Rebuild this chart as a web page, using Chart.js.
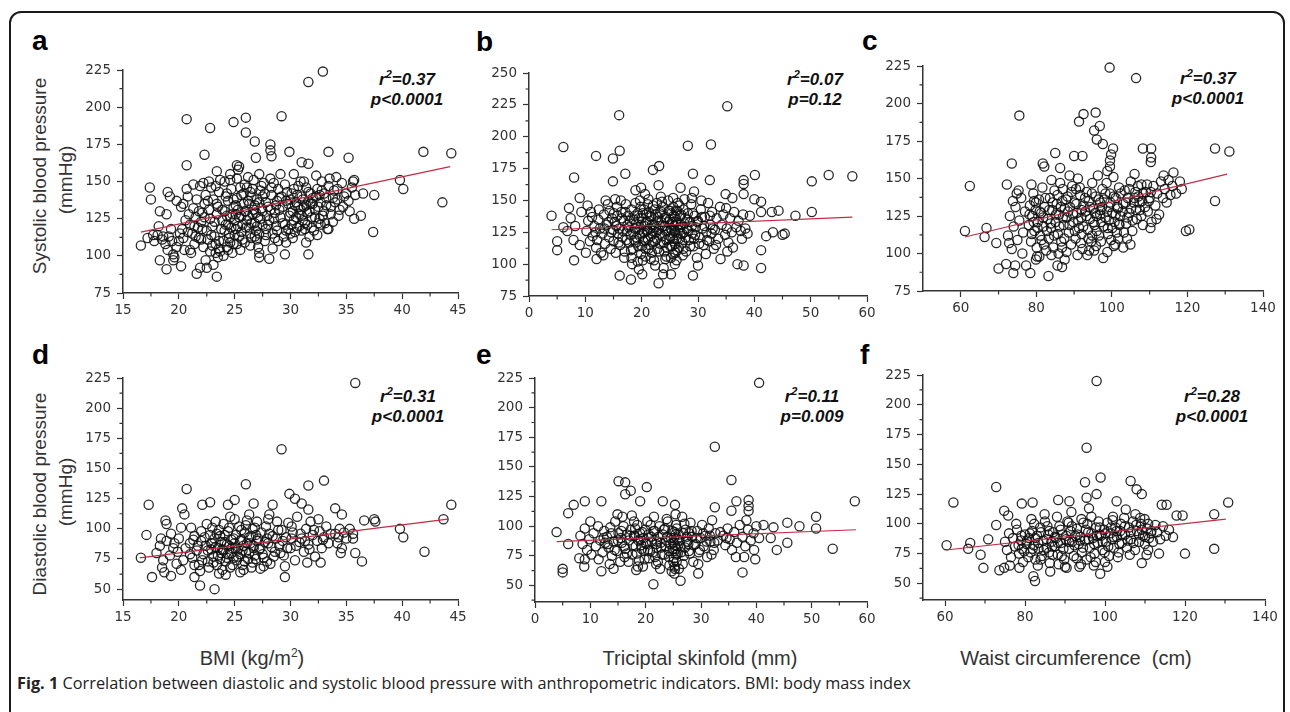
<!DOCTYPE html>
<html>
<head>
<meta charset="utf-8">
<script src="https://cdn.jsdelivr.net/npm/chart.js@4.4.0/dist/chart.umd.min.js"></script>
<style>
body{margin:0;background:#fff;width:1290px;height:712px;overflow:hidden;position:relative;font-family:"Liberation Sans",Arial,sans-serif;color:#333}
.frame{position:absolute;left:9px;top:11px;width:1276px;height:760px;border:2px solid #1a1a1a;border-radius:12px;box-sizing:border-box}
canvas{position:absolute}
.t{position:absolute;line-height:1;white-space:nowrap}
.letter{font-weight:bold;font-size:28px;color:#000}
.stat{position:absolute;font-weight:bold;font-style:italic;font-size:17px;line-height:20px;color:#111;text-align:center;transform:translateX(-50%);white-space:nowrap}
.stat sup,.xt sup{font-size:11px;position:relative;top:-1px;vertical-align:top;line-height:1}
.xt{font-size:20px;transform:translateX(-50%)}
.xt sup{font-size:12px}
.yt{font-size:19px;transform:translate(-50%,-50%) rotate(-90deg)}
.cap{font-family:"Open Sans",sans-serif;font-size:16.3px;color:#222}
</style>
</head>
<body>
<div class="frame"></div>

<div class="t letter" style="left:32px;top:27px">a</div>
<div class="t letter" style="left:476px;top:28px">b</div>
<div class="t letter" style="left:862px;top:27px">c</div>
<div class="t letter" style="left:32px;top:341px">d</div>
<div class="t letter" style="left:476px;top:341px">e</div>
<div class="t letter" style="left:860px;top:341px">f</div>

<div class="stat" style="left:407px;top:70px">r<sup>2</sup>=0.37<br>p&lt;0.0001</div>
<div class="stat" style="left:815px;top:70px">r<sup>2</sup>=0.07<br>p=0.12</div>
<div class="stat" style="left:1208px;top:69px">r<sup>2</sup>=0.37<br>p&lt;0.0001</div>
<div class="stat" style="left:408px;top:387px">r<sup>2</sup>=0.31<br>p&lt;0.0001</div>
<div class="stat" style="left:812px;top:387px">r<sup>2</sup>=0.11<br>p=0.009</div>
<div class="stat" style="left:1212px;top:387px">r<sup>2</sup>=0.28<br>p&lt;0.0001</div>

<div class="t yt" style="left:39px;top:176px">Systolic blood pressure</div>
<div class="t yt" style="left:65px;top:180px">(mmHg)</div>
<div class="t yt" style="left:39px;top:494px">Diastolic blood pressure</div>
<div class="t yt" style="left:65px;top:492px">(mmHg)</div>

<div class="t xt" style="left:252px;top:648px">BMI (kg/m<sup>2</sup>)</div>
<div class="t xt" style="left:700px;top:648px">Triciptal skinfold (mm)</div>
<div class="t xt" style="left:1076px;top:648px">Waist circumference&nbsp; (cm)</div>

<div class="t cap" style="left:17px;top:675px"><b>Fig. 1</b> Correlation between diastolic and systolic blood pressure with anthropometric indicators. BMI: body mass index</div>

<script>
// tick labels
const bmiTicks = [15, 20, 25, 30, 35, 40, 45];
const skinTicks = [0, 10, 20, 30, 40, 50, 60];
const waistTicks = [60, 80, 100, 120, 140];
const sbpTicks = [75, 100, 125, 150, 175, 200, 225];
const sbpTicksB = [75, 100, 125, 150, 175, 200, 225, 250];
const dbpTicks = [50, 75, 100, 125, 150, 175, 200, 225];

// a: BMI vs systolic
const aPts = [
  [32.9,224],[31.6,217],[20.7,192],[26.0,193],[24.9,190],[22.8,186],[29.2,194],[26.0,183],[26.8,177],[28.2,175],
  [28.2,171],[28.3,167],[29.9,170],[33.4,170],[41.9,170],[44.4,169],[26.9,166],[22.3,168],[20.7,161],[35.2,166],
  [31.0,163],[31.6,162],[23.4,157],[25.2,161],[17.4,146],[17.5,138],[18.3,130],[18.9,128],[16.6,107],[39.8,151],
  [40.1,145],[43.6,136],[37.5,141],[36.5,142],[37.4,116],[35.7,125],[36.3,127],[35.7,151],[33.4,118],[33.8,123],
  [32.6,125],[31.6,101],[29.5,101],[28.1,98],[27.2,99],[27.2,102],[23.4,86],[21.6,88],[22.5,92],[21.9,92],
  [20.2,93],[18.9,91],[18.3,97],[19.5,101],[19.5,97],[19.8,106],[20.1,115],[21.0,104],[17.7,114],[18.6,113],
  [19.0,143],[19.2,140],[19.8,137],[21.3,148],[22.2,149],[23.7,151],[24.6,151],[25.4,160],
  [17.2,112],[17.8,110],[18.1,114],[18.5,111],[18.8,108],[19.1,113],[19.4,110],[18.2,120],[19.0,104],[19.6,99],[19.3,118],
  [20.0,110],[20.3,118],[20.6,124],[20.4,135],[20.8,140],[20.2,133],[20.9,128],[20.5,104],[20.7,145],[21.0,121],
  [21.2,115],[21.4,108],[21.1,102],[21.3,132],[21.5,126],[21.6,138],[21.8,112],[21.9,147],[21.7,119],
  [22.0,123],[22.1,129],[22.2,106],[22.3,135],[22.4,141],[22.5,117],[22.6,111],[22.7,131],[22.8,125],[22.9,146],
  [23.0,120],[23.1,138],[23.2,113],[23.3,108],[23.4,128],[23.5,133],[23.6,143],[23.7,103],[23.8,118],[23.9,124],
  [22.4,97],[23.1,94],[23.5,99],[22.7,150],[23.3,147],
  [24.0,110],[24.1,130],[24.2,121],[24.3,106],[24.4,137],[24.5,115],[24.6,126],[24.7,145],[24.8,102],[24.9,133],
  [24.2,140],[24.5,112],[24.7,119],[24.9,108],[24.1,150],[24.6,155],[24.3,127],
  [25.0,124],[25.1,118],[25.2,139],[25.3,131],[25.4,113],[25.5,146],[25.6,127],[25.7,121],[25.8,135],[25.9,109],
  [25.2,152],[25.5,104],[25.8,142],[25.1,128],[25.6,116],[25.3,158],[25.9,148],
  [26.0,130],[26.1,124],[26.2,137],[26.3,119],[26.4,143],[26.5,112],[26.6,128],[26.7,151],[26.8,134],[26.9,117],
  [26.2,153],[26.5,140],[26.8,122],[26.1,146],[26.4,107],[26.7,131],
  [27.0,138],[27.1,126],[27.2,115],[27.3,144],[27.4,132],[27.5,121],[27.6,149],[27.7,110],[27.8,136],[27.9,127],
  [27.2,155],[27.5,140],[27.8,118],[27.1,106],[27.4,147],
  [28.0,133],[28.1,124],[28.3,141],[28.4,115],[28.5,149],[28.6,129],[28.8,137],[28.9,110],[28.2,152],[28.7,120],
  [28.4,105],[28.9,145],
  [29.0,131],[29.2,140],[29.3,122],[29.5,148],[29.6,117],[29.8,135],[29.9,127],[29.1,155],[29.4,113],[29.7,143],
  [30.0,138],[30.1,121],[30.2,130],[30.3,145],[30.4,116],[30.5,126],[30.6,141],[30.7,133],[30.8,120],[30.9,150],
  [30.2,112],[30.5,136],[30.8,128],[30.3,155],
  [31.0,140],[31.1,124],[31.2,133],[31.3,118],[31.4,146],[31.5,129],[31.6,137],[31.7,113],[31.8,142],[31.9,126],
  [31.2,150],[31.5,121],[31.8,135],[31.4,109],
  [32.0,139],[32.2,131],[32.4,145],[32.5,122],[32.7,136],[32.8,150],[32.9,127],[32.1,117],[32.6,141],[32.3,154],
  [33.0,142],[33.2,134],[33.4,147],[33.6,128],[33.8,139],[33.1,122],[33.5,152],[33.9,144],[33.3,118],
  [34.0,136],[34.2,145],[34.4,131],[34.6,149],[34.8,140],[34.3,127],[34.7,133],[34.1,153],
  [35.0,142],[35.2,137],[35.5,146],[35.8,141],[35.3,130],[35.6,150],
  [21.5,113],[21.8,130],[22.1,118],[22.3,126],[22.6,137],[22.9,114],[23.2,123],[23.4,135],[23.6,110],[23.9,131],
  [24.1,117],[24.3,142],[24.4,121],[24.6,109],[24.8,128],[24.9,138],[25.0,114],[25.1,134],[25.3,120],[25.4,126],
  [25.6,141],[25.7,111],[25.9,130],[26.0,119],[26.2,127],[26.3,135],[26.5,122],[26.6,145],[26.8,113],[26.9,129],
  [27.0,120],[27.2,136],[27.3,125],[27.5,130],[27.7,142],[27.8,114],[28.0,121],[28.2,131],[28.3,146],[28.5,125],
  [28.7,134],[28.8,117],[29.0,139],[29.1,126],[29.3,133],[29.5,121],[29.6,137],[29.8,118],[30.0,129],[30.1,142],
  [30.3,124],[30.4,134],[30.6,119],[30.7,147],[30.9,131],[31.0,127],[31.1,138],[31.3,122],[31.4,134],[31.6,143],
  [31.7,130],[31.9,119],[32.0,135],[32.2,126],[32.3,140],[32.5,133],[32.7,121],[32.8,144],[33.0,130],[33.2,139],
  [23.0,107],[23.3,102],[23.6,105],[24.0,100],[24.4,104],[22.8,103],[22.0,111],[21.4,120],[20.8,116],[20.4,112],
  [26.4,115],[27.0,111],[25.2,108],[28.6,112],[29.6,109],[30.0,115],[31.0,117],[32.4,114],[33.6,133],[34.2,138]
];
const aFit = [[16.6, 116], [44.3, 160]];

// b: triciptal skinfold vs systolic
const bPts = [
  [35.2,224],[16.0,217],[6.1,192],[28.2,193],[32.3,194],[11.9,185],[14.9,183],[16.1,189],[8.0,168],[14.9,165],
  [17.1,171],[22.0,174],[23.1,177],[29.1,171],[32.1,166],[40.1,170],[38.1,166],[38.1,163],[50.2,165],[53.2,170],
  [57.4,169],[34.9,155],[36.1,152],[38.1,155],[40.0,151],[41.2,149],[41.2,141],[43.1,141],[44.3,142],[47.3,138],
  [50.2,141],[45.4,124],[43.3,125],[42.1,122],[41.2,111],[41.2,97],[38.1,99],[37.0,100],[34.0,104],[35.2,110],
  [30.0,99],[29.1,91],[25.2,92],[23.0,85],[23.8,92],[18.1,88],[16.1,91],[20.1,92],[8.0,103],[4.0,138],
  [5.0,118],[5.0,111],[6.1,129],[7.1,144],[9.0,152],[7.9,119],[9.0,115],[10.1,109],[12.0,104],[13.2,107],
  [19.9,160],[18.9,158],[23.0,162],[26.9,160],[29.3,157],[45.0,123],[8.2,130],[7.4,136],[9.3,141],[6.8,126],
  [10.2,126],[10.5,134],[10.8,118],[11.0,141],[11.3,122],[11.6,130],[11.9,113],[10.4,146],[11.2,137],[11.8,125],
  [12.1,119],[12.4,143],[12.6,128],[12.8,109],[12.3,135],
  [13.0,124],[13.3,139],[13.5,116],[13.8,131],[14.0,147],[14.2,121],[14.5,112],[14.7,136],[14.9,127],[13.6,150],
  [14.3,142],[15.0,118],[15.2,133],[15.4,109],[15.6,145],[15.8,124],[15.3,151],[15.7,138],
  [16.0,128],[16.2,115],[16.4,141],[16.6,121],[16.8,134],[17.0,110],[17.2,147],[17.4,126],[17.6,138],[17.8,117],
  [16.3,150],[16.9,105],[17.5,131],[18.0,123],[18.2,143],[18.4,112],[18.6,135],[18.8,128],[18.3,100],[18.7,119],[18.9,148],
  [19.0,132],[19.1,121],[19.3,140],[19.4,114],[19.6,127],[19.7,150],[19.9,108],[20.0,136],[20.1,124],[20.3,118],
  [20.4,143],[20.5,130],[20.7,112],[20.8,139],[20.9,126],[19.5,96],[20.2,103],[20.6,155],[19.8,145],
  [21.0,133],[21.1,120],[21.3,141],[21.4,115],[21.5,128],[21.7,137],[21.8,109],[21.9,124],[22.0,146],[22.2,131],
  [22.3,118],[22.5,139],[22.6,125],[22.8,112],[22.9,134],[21.2,151],[21.6,104],[22.4,99],[22.7,148],
  [23.0,127],[23.2,140],[23.3,116],[23.5,133],[23.7,122],[23.8,145],[24.0,110],[24.1,130],[24.3,137],[24.4,119],
  [24.6,126],[24.8,142],[23.4,153],[24.2,104],[24.7,150],[23.9,97],
  [25.0,135],[25.1,122],[25.2,128],[25.3,140],[25.4,114],[25.5,131],[25.6,145],[25.7,118],[25.8,126],[25.9,137],
  [26.0,109],[26.1,133],[26.2,120],[26.3,142],[26.5,127],[26.6,113],[26.8,138],[26.9,124],[25.2,105],[25.6,152],
  [26.4,148],[25.9,100],
  [27.0,131],[27.2,117],[27.4,143],[27.5,125],[27.7,136],[27.9,110],[28.0,128],[28.2,140],[28.4,119],[28.6,133],
  [28.8,147],[29.0,124],[29.2,114],[29.4,138],[29.6,129],[29.8,105],[27.6,151],[28.9,152],[29.3,120],
  [30.0,134],[30.3,121],[30.5,143],[30.8,128],[31.0,115],[31.2,137],[31.5,125],[31.8,148],[32.0,118],[32.2,131],
  [32.5,141],[32.8,112],[33.0,127],[33.3,136],[33.6,120],[33.9,145],[31.4,108],[30.6,150],[32.4,124],
  [34.2,131],[34.5,139],[34.8,123],[35.1,128],[35.4,117],[35.7,136],[36.0,125],[36.4,141],[36.8,129],[37.2,134],
  [37.6,126],[38.0,139],[38.4,128],[38.8,124],[39.2,138],[35.0,144],[36.2,113],[37.8,120],
  [13.4,128],[14.1,133],[14.6,125],[15.1,140],[15.5,130],[15.9,117],[16.5,136],[16.7,126],[17.1,141],[17.3,119],
  [17.7,129],[17.9,134],[18.1,111],[18.5,125],[18.8,138],[19.0,117],[19.2,129],[19.5,136],[19.7,122],[19.9,131],
  [20.1,114],[20.2,140],[20.4,125],[20.6,119],[20.8,133],[21.0,127],[21.2,112],[21.4,138],[21.6,122],[21.8,131],
  [22.0,117],[22.1,126],[22.3,143],[22.5,129],[22.7,120],[22.9,137],[23.1,110],[23.3,124],[23.5,141],[23.7,130],
  [23.9,117],[24.1,136],[24.3,126],[24.5,113],[24.7,133],[24.9,120],[25.0,142],[25.1,114],[25.3,127],[25.4,133],
  [25.5,120],[25.6,108],[25.7,138],[25.8,130],[25.9,116],[26.0,125],[26.1,142],[26.3,111],[26.4,131],[26.6,120],
  [26.8,129],[27.0,139],[27.2,124],[27.4,112],[27.6,132],[27.8,121],[28.1,135],[28.3,126],[28.6,114],[28.9,130],
  [29.1,140],[29.5,123],[29.9,133],[30.2,116],[30.7,137],[31.1,130],[31.6,119],[32.1,138],[32.6,128],[33.2,115],
  [18.2,105],[19.3,102],[20.7,106],[22.2,103],[24.4,106],[26.2,103],[27.3,107],[21.1,147],[23.6,149],[26.7,146]
];
const bFit = [[4.0, 127], [57.4, 137]];

// c: waist circumference vs systolic
const cPts = [
  [99.4,224],[106.4,217],[75.5,192],[92.5,193],[91.3,188],[95.7,194],[96.8,185],[95.3,182],[96.0,176],[97.6,173],
  [100.3,170],[99.8,166],[99.5,162],[99.5,158],[90.0,165],[92.2,165],[85.0,167],[81.7,160],[82.1,158],[73.5,160],
  [86.3,157],[62.4,145],[61.1,115],[66.8,117],[66.3,111],[69.4,107],[70.0,90],[72.0,93],[73.9,87],[74.4,92],
  [77.3,92],[78.4,87],[79.9,96],[80.2,98],[83.2,85],[85.6,92],[86.8,91],[87.5,96],[72.2,146],[75.3,142],
  [108.2,170],[110.4,170],[110.4,164],[110.3,161],[127.3,170],[131.1,168],[127.3,135],[119.6,115],[120.5,116],[118.5,143],
  [116.3,154],[113.7,152],[104.9,106],[98.8,101],[90.9,99],[93.5,99],[97.7,97],[95.3,102],[100.5,105],
  [72.5,112],[73.0,125],[73.5,103],[74.0,118],[74.5,131],[75.0,109],[75.5,122],[76.0,137],[76.5,114],[77.0,128],
  [73.8,135],[76.3,100],[72.8,107],[74.8,140],
  [78.0,119],[78.3,132],[78.6,108],[78.9,125],[79.2,140],[79.5,115],[79.8,129],[80.1,104],[80.4,121],[80.7,136],
  [81.0,112],[81.3,127],[81.6,144],[81.9,118],[82.2,131],[78.7,146],[80.8,98],[82.0,106],[79.4,135],
  [83.0,123],[83.3,110],[83.6,137],[83.9,117],[84.2,129],[84.5,104],[84.8,142],[85.1,121],[85.4,133],[85.7,113],
  [86.0,126],[86.3,147],[86.6,108],[86.9,135],[87.2,119],[87.5,130],[84.0,149],[85.9,100],[87.0,143],
  [88.0,124],[88.3,138],[88.6,114],[88.9,131],[89.2,106],[89.5,145],[89.8,121],[90.1,134],[90.4,110],[90.7,127],
  [91.0,150],[91.3,117],[91.6,139],[91.9,124],[92.2,103],[92.5,132],[88.8,152],[90.5,143],[92.0,113],
  [93.0,128],[93.3,141],[93.6,116],[93.9,135],[94.2,123],[94.5,108],[94.8,147],[95.1,130],[95.4,119],[95.7,138],
  [96.0,125],[96.3,152],[96.6,112],[96.9,134],[97.2,121],[97.5,143],[94.0,102],[95.8,105],[97.0,129],
  [98.0,136],[98.3,124],[98.6,147],[98.9,117],[99.2,131],[99.5,140],[99.8,109],[100.1,127],[100.4,151],[100.7,121],
  [101.0,137],[101.3,114],[101.6,130],[101.9,144],[102.2,125],[98.8,155],[100.9,106],[102.0,119],
  [103.0,133],[103.4,142],[103.8,120],[104.2,137],[104.6,127],[105.0,148],[105.4,115],[105.8,134],[106.2,141],[106.6,123],
  [107.0,138],[107.4,129],[107.8,146],[108.2,119],[104.0,110],[106.0,153],[108.0,135],
  [109.0,141],[109.5,128],[110.0,137],[110.5,121],[111.0,145],[111.5,132],[112.0,140],[112.5,126],[113.0,148],[113.5,137],
  [114.0,143],[114.5,134],[115.0,149],[115.5,139],[116.0,145],[117.0,140],[118.0,148],[110.2,117],[111.8,123],
  [78.2,126],[78.8,113],[79.3,121],[79.9,134],[80.3,117],[80.9,128],[81.4,109],[81.8,124],[82.4,137],[82.8,115],
  [83.4,129],[83.8,120],[84.3,134],[84.7,112],[85.2,126],[85.6,139],[86.1,118],[86.5,131],[87.0,124],[87.4,110],
  [87.9,136],[88.4,128],[88.8,119],[89.3,141],[89.7,126],[90.2,115],[90.6,133],[91.1,122],[91.5,144],[92.0,129],
  [92.4,118],[92.9,137],[93.3,125],[93.8,110],[94.2,131],[94.7,140],[95.1,121],[95.6,127],[96.0,115],[96.5,136],
  [96.9,126],[97.4,131],[97.8,118],[98.3,140],[98.7,128],[99.2,122],[99.6,134],[100.1,117],[100.5,138],[101.0,126],
  [101.4,131],[101.9,120],[102.3,140],[102.8,128],[103.2,114],[103.7,134],[104.1,124],[104.6,143],[105.1,130],[105.5,122],
  [106.0,137],[106.4,129],[106.9,145],[107.3,134],[107.8,125],[108.3,140],[108.8,131],[109.3,146],[109.8,135],[110.3,141],
  [82.6,102],[84.0,99],[86.8,104],[88.0,101],[91.8,107],[94.8,112],[97.1,108],[99.0,113],[101.7,110],[103.0,104]
];
const cFit = [[61.1, 111], [130.5, 153]];

// d: BMI vs diastolic
const dPts = [
  [35.8,221],[29.2,166],[26.0,137],[31.6,136],[33.0,140],[20.7,133],[17.3,120],[22.8,122],[22.1,120],[25.0,124],
  [24.4,120],[26.7,121],[28.4,120],[29.9,129],[30.4,125],[31.0,121],[31.6,116],[34.0,117],[34.6,112],[36.6,107],
  [37.5,108],[37.6,106],[39.8,100],[40.1,93],[42.0,81],[43.7,108],[44.4,120],[35.8,80],[36.4,73],[32.7,72],
  [29.5,60],[23.2,50],[21.9,53],[21.4,60],[17.6,60],[18.7,64],[19.3,61],[20.2,66],[17.1,95],[16.6,76],
  [18.8,107],[18.9,104],[20.3,117],[20.5,112],[20.2,101],[18.4,92],[35.6,92],
  [18.0,80],[18.3,86],[18.6,74],[18.9,90],[19.2,78],[19.5,84],[19.8,71],[20.0,92],[18.5,68],[19.3,96],[19.9,81],
  [21.0,88],[21.2,76],[21.4,94],[21.6,82],[21.8,70],[22.0,90],[22.2,79],[22.4,86],[22.6,73],[22.8,95],
  [21.1,101],[21.9,65],[22.5,104],[22.9,83],
  [23.0,88],[23.1,77],[23.2,92],[23.4,70],[23.5,84],[23.6,99],[23.7,75],[23.8,89],[23.9,66],[24.0,82],
  [24.1,95],[24.2,73],[24.3,87],[24.4,79],[24.5,101],[24.6,68],[24.7,91],[24.8,84],[24.9,76],[23.3,106],
  [24.2,62],[23.8,80],[24.6,110],
  [25.0,88],[25.1,95],[25.2,74],[25.3,83],[25.4,102],[25.5,79],[25.6,91],[25.7,70],[25.8,86],[25.9,97],
  [26.0,81],[26.1,107],[26.2,75],[26.3,93],[26.4,88],[26.5,68],[26.6,100],[26.7,84],[26.8,78],[26.9,95],
  [25.5,64],[26.3,112],
  [27.0,90],[27.2,83],[27.4,97],[27.6,76],[27.8,102],[28.0,88],[28.2,71],[28.4,94],[28.6,81],[28.8,106],
  [27.3,67],[28.1,112],[27.9,92],
  [29.0,86],[29.2,99],[29.4,78],[29.6,93],[29.8,105],[30.0,84],[30.2,97],[30.4,74],[30.6,110],[30.8,89],
  [29.5,69],[30.1,102],
  [31.0,92],[31.2,81],[31.4,100],[31.6,87],[31.8,106],[32.0,95],[32.2,77],[32.4,90],[32.6,98],[32.8,84],
  [33.0,93],[33.2,102],[33.4,88],[31.5,72],[32.5,108],
  [34.0,96],[34.2,88],[34.4,100],[34.6,84],[34.8,97],[35.0,92],[35.3,100],[35.6,96],[34.5,80],
  [20.6,84],[21.0,79],[21.3,91],[21.7,86],[22.1,74],[22.3,93],[22.6,82],[22.9,88],[23.1,72],[23.3,85],
  [23.5,78],[23.7,94],[23.9,83],[24.1,89],[24.3,76],[24.5,86],[24.7,80],[24.9,92],[25.1,84],[25.3,77],
  [25.5,90],[25.7,82],[25.9,73],[26.1,88],[26.3,80],[26.5,94],[26.7,86],[26.9,75],[27.1,92],[27.3,84],
  [27.5,79],[27.7,89],[27.9,73],[28.1,96],[28.3,85],[28.5,77],[28.7,92],[28.9,99],[29.1,80],[29.3,90],
  [29.7,84],[30.1,92],[30.5,86],[30.9,96],[31.3,90],[31.7,83],[32.1,99],[32.9,91],[33.6,96],[34.3,93],
  [22.0,98],[23.0,101],[24.0,104],[25.0,108],[26.0,103],[27.0,106],[28.0,108],[22.7,68],[23.6,63],[24.8,70],
  [25.8,66],[26.6,72],[27.6,69],[21.4,70],[20.4,74],[19.6,88],[23.4,96],[24.4,98],[25.6,99],[26.8,101]
];
const dFit = [[16.5, 76], [44.1, 108]];

// e: triciptal skinfold vs diastolic
const ePts = [
  [40.5,221],[32.5,167],[35.5,139],[15.1,138],[16.3,137],[20.2,133],[17.3,130],[16.3,127],[9.0,121],[12.0,121],
  [7.0,118],[19.0,121],[23.1,121],[25.3,118],[36.4,121],[38.6,122],[38.6,117],[38.6,113],[35.5,113],[32.5,116],
  [57.8,121],[50.8,108],[50.8,98],[53.8,81],[47.8,100],[45.6,103],[45.6,86],[43.7,80],[42.6,90],[41.3,101],
  [39.8,72],[39.6,80],[37.5,61],[37.8,74],[29.5,60],[26.3,54],[21.4,51],[18.3,63],[14.2,64],[12.0,62],
  [5.0,64],[5.0,61],[3.9,95],[6.0,85],[6.0,111],[8.0,73],[9.0,72],[43.1,99],
  [8.2,92],[8.6,85],[9.0,98],[9.4,80],[9.8,89],[10.2,76],[10.6,94],[11.0,83],[11.4,100],[11.8,88],
  [12.2,78],[10.0,104],[11.5,72],[12.5,96],[8.9,66],[12.7,86],
  [13.0,91],[13.3,82],[13.6,99],[13.9,75],[14.2,87],[14.5,104],[14.8,79],[15.1,94],[15.4,70],[15.7,86],
  [16.0,100],[16.3,81],[16.6,93],[13.5,68],[14.9,110],[16.2,74],[15.5,90],
  [17.0,88],[17.3,97],[17.6,76],[17.9,92],[18.2,83],[18.5,101],[18.8,71],[19.1,89],[19.4,95],[19.7,79],
  [20.0,86],[20.3,104],[20.6,73],[17.5,109],[18.6,66],[19.9,97],[20.4,80],[18.0,92],[19.2,84],
  [21.0,91],[21.3,78],[21.6,96],[21.9,85],[22.2,70],[22.5,100],[22.8,82],[23.1,93],[23.4,76],[23.7,88],
  [24.0,104],[24.3,67],[24.6,90],[24.9,81],[21.5,108],[22.6,64],[23.5,98],[22.0,87],[24.2,74],
  [25.0,86],[25.1,73],[25.2,95],[25.3,64],[25.4,81],[25.5,101],[25.6,70],[25.7,89],[25.8,77],[26.0,93],
  [26.3,83],[26.6,108],[26.9,75],[27.2,97],[27.5,87],[27.8,79],[28.1,103],[28.4,91],[25.2,60],[26.7,68],
  [27.9,94],[25.4,110],
  [29.0,85],[29.3,96],[29.6,78],[29.9,90],[30.2,101],[30.5,83],[30.8,92],[31.1,74],[31.4,98],[31.7,87],
  [32.0,105],[32.3,80],[32.6,94],[33.0,88],[29.5,68],[31.9,76],
  [34.0,92],[34.4,84],[34.8,98],[35.2,89],[35.6,80],[36.0,95],[36.5,86],[37.0,101],[37.5,91],[38.0,83],
  [38.5,97],[39.0,88],[39.5,94],[40.0,100],[40.5,90],[36.3,74],[38.2,105],
  [12.4,90],[13.1,85],[13.8,94],[14.4,80],[15.0,88],[15.6,96],[16.1,83],[16.6,77],[17.2,92],[17.7,84],
  [18.1,98],[18.4,77],[18.7,88],[19.0,94],[19.3,81],[19.6,90],[19.8,72],[20.1,85],[20.5,93],[20.8,79],
  [21.1,87],[21.4,96],[21.7,74],[22.0,82],[22.3,91],[22.7,86],[23.0,76],[23.3,97],[23.6,83],[23.9,91],
  [24.2,79],[24.5,85],[24.8,96],[25.0,70],[25.1,90],[25.2,79],[25.3,84],[25.4,93],[25.5,76],[25.6,98],
  [25.8,83],[26.1,88],[26.4,78],[26.8,94],[27.1,82],[27.4,91],[27.7,85],[28.0,77],[28.3,96],[28.7,84],
  [29.2,90],[29.8,80],[30.4,94],[31.0,87],[31.6,92],[32.4,86],[33.5,95],[34.6,90],[25.2,66],[24.7,62],
  [15.8,108],[17.9,104],[20.9,101],[23.8,106],[27.0,102],[16.9,70],[19.5,66],[21.9,68],[26.0,64],[28.6,70]
];
const eFit = [[3.9, 87], [58.0, 97]];

// f: waist circumference vs diastolic
const fPts = [
  [97.9,220],[95.4,164],[98.9,139],[95.0,135],[72.8,131],[62.1,118],[106.4,136],[107.9,129],[109.2,125],[79.2,117],
  [81.9,118],[88.3,120],[91.1,119],[95.4,122],[97.9,125],[102.9,119],[105.2,112],[114.2,116],[115.4,116],[117.9,107],
  [119.4,107],[127.3,108],[130.8,118],[127.3,79],[120.0,75],[113.5,75],[110.4,74],[109.2,67],[98.8,58],[90.4,63],
  [82.5,52],[82.1,56],[86.3,60],[69.6,63],[73.6,61],[74.8,63],[60.4,82],[65.8,79],[66.3,84],[68.9,74],
  [70.8,87],[74.8,111],[75.8,107],[72.8,99],
  [75.0,85],[75.5,78],[76.0,92],[76.5,72],[77.0,88],[77.5,81],[78.0,95],[78.5,75],[79.0,86],[79.5,68],
  [80.0,91],[76.2,65],[77.8,100],[79.2,79],[80.4,83],[78.6,63],
  [81.0,88],[81.4,76],[81.8,94],[82.2,82],[82.6,70],[83.0,90],[83.4,79],[83.8,97],[84.2,73],[84.6,86],
  [85.0,102],[85.4,80],[85.8,91],[86.2,67],[86.6,85],[81.6,104],[83.2,65],[84.9,108],[86.0,76],
  [87.0,93],[87.4,81],[87.8,88],[88.2,74],[88.6,98],[89.0,84],[89.4,91],[89.8,70],[90.2,87],[90.6,102],
  [91.0,79],[91.4,94],[91.8,85],[92.2,73],[92.6,90],[88.0,106],[90.0,64],[91.6,110],
  [93.0,96],[93.4,83],[93.8,89],[94.2,76],[94.6,101],[95.0,86],[95.4,70],[95.8,93],[96.2,80],[96.6,106],
  [97.0,88],[97.4,75],[97.8,97],[98.2,84],[98.6,91],[94.0,66],[96.0,113],[97.2,65],[95.6,100],
  [99.0,90],[99.4,78],[99.8,95],[100.2,85],[100.6,101],[101.0,73],[101.4,92],[101.8,87],[102.2,80],[102.6,97],
  [103.0,89],[103.4,76],[103.8,94],[104.2,84],[100.0,68],[102.0,106],[104.0,100],
  [105.0,91],[105.5,80],[106.0,97],[106.5,87],[107.0,102],[107.5,78],[108.0,94],[108.5,85],[109.0,100],[109.5,90],
  [110.0,83],[110.5,96],[111.0,88],[111.5,92],[112.0,85],[106.2,74],[108.8,105],[110.8,78],
  [113.0,93],[113.8,87],[114.5,98],[115.2,90],[116.0,95],[117.0,89],
  [78.4,82],[79.1,90],[79.8,77],[80.5,86],[81.2,92],[81.9,79],[82.6,88],[83.3,84],[84.0,93],[84.7,78],
  [85.4,87],[86.1,94],[86.8,81],[87.5,89],[88.2,84],[88.9,95],[89.6,79],[90.3,90],[91.0,85],[91.7,98],
  [92.4,82],[93.1,91],[93.8,86],[94.5,80],[95.2,95],[95.9,87],[96.6,92],[97.3,83],[98.0,90],[98.7,97],
  [99.4,85],[100.1,92],[100.8,81],[101.5,97],[102.2,89],[102.9,94],[103.6,83],[104.3,91],[105.0,98],[105.7,86],
  [106.4,93],[107.1,84],[107.8,99],[108.5,91],[109.2,95],[110.0,89],[110.8,100],[111.6,94],[80.8,72],[83.9,70],
  [86.9,74],[89.2,73],[92.9,71],[96.4,72],[99.9,76],[103.2,72],[85.6,98],[90.9,101],[94.1,104],[98.4,102],
  [101.9,103],[104.8,105],[107.6,108],[109.9,104],[112.6,99],[82.3,100],[88.4,66],[93.6,64],[97.7,68],[100.6,64]
];
const fFit = [[60.3, 78], [130.2, 104]];

const YW = 50, PT = 14, PR = 16, XH = 30;
const tickFont = { family: '"DejaVu Sans", sans-serif', size: 13.5 };

// half-way ticks between the labelled ones
function minors(ticks, min, max) {
  const out = [];
  const step = ticks[1] - ticks[0];
  for (let i = -1; i < ticks.length; i++) {
    const v = ticks[0] + (i + 0.5) * step;
    if (v > min && v < max) out.push(v);
  }
  return out;
}

const minorTicks = {
  id: 'minorTicks',
  afterDraw(chart, args, opts) {
    const ctx = chart.ctx, xs = chart.scales.x, ys = chart.scales.y, area = chart.chartArea;
    ctx.save();
    ctx.strokeStyle = '#333';
    ctx.lineWidth = 1.2;
    ctx.beginPath();
    opts.x.forEach(v => {
      const px = xs.getPixelForValue(v);
      ctx.moveTo(px, area.bottom); ctx.lineTo(px, area.bottom + 3.5);
    });
    opts.y.forEach(v => {
      const py = ys.getPixelForValue(v);
      ctx.moveTo(area.left, py); ctx.lineTo(area.left - 3.5, py);
    });
    ctx.stroke();
    ctx.restore();
  }
};

function axis(range, ticks, isX) {
  return {
    type: 'linear', min: range[0], max: range[1],
    afterBuildTicks: ax => { ax.ticks = ticks.map(v => ({ value: v })); },
    afterFit: ax => { if (isX) ax.height = XH; else ax.width = YW; },
    grid: { drawOnChartArea: false, drawTicks: true, tickLength: 6, color: '#333', tickWidth: 1.2 },
    border: { display: true, color: '#333', width: 1.5 },
    ticks: { font: tickFont, color: '#333', padding: isX ? 3 : 6, maxRotation: 0, autoSkip: false }
  };
}

function panel(box, xr, yr, xt, yt, pts, fit) {
  const cv = document.createElement('canvas');
  const w = box.r - box.l + YW + PR, h = box.b - box.t + PT + XH;
  cv.width = w; cv.height = h;
  cv.style.left = (box.l - YW) + 'px';
  cv.style.top = (box.t - PT) + 'px';
  cv.style.width = w + 'px'; cv.style.height = h + 'px';
  document.body.appendChild(cv);
  new Chart(cv.getContext('2d'), {
    type: 'scatter',
    data: {
      datasets: [
        {
          type: 'line', data: fit.map(p => ({ x: p[0], y: p[1] })),
          borderColor: '#c42a45', borderWidth: 1.2, pointRadius: 0, order: 0, clip: false
        },
        {
          data: pts.map(p => ({ x: p[0], y: p[1] })),
          pointRadius: 4.6, pointBorderWidth: 1.3, pointBorderColor: 'rgba(17,17,17,0.9)',
          pointBackgroundColor: 'rgba(0,0,0,0)', order: 1, clip: false
        }
      ]
    },
    options: {
      responsive: false, animation: false, events: [],
      layout: { padding: { left: 0, top: PT, right: PR, bottom: 0 } },
      plugins: {
        legend: { display: false }, tooltip: { enabled: false },
        minorTicks: { x: minors(xt, xr[0], xr[1]), y: minors(yt, yr[0], yr[1]) }
      },
      scales: { x: axis(xr, xt, true), y: axis(yr, yt, false) }
    },
    plugins: [minorTicks]
  });
}

panel({ l: 123, t: 70, r: 458, b: 293 }, [15, 45], [75, 225], bmiTicks, sbpTicks, aPts, aFit);
panel({ l: 529, t: 73, r: 867, b: 296 }, [0, 60], [75, 250], skinTicks, sbpTicksB, bPts, bFit);
panel({ l: 923, t: 66, r: 1263, b: 291 }, [50, 140], [75, 225], waistTicks, sbpTicks, cPts, cFit);
panel({ l: 123, t: 378, r: 458, b: 600 }, [15, 45], [41, 225], bmiTicks, dbpTicks, dPts, dFit);
panel({ l: 535, t: 378, r: 867, b: 602 }, [0, 60], [36, 225], skinTicks, dbpTicks, ePts, eFit);
panel({ l: 923, t: 375, r: 1265, b: 600 }, [54.5, 140], [36, 225], waistTicks, dbpTicks, fPts, fFit);
</script>
</body>
</html>
